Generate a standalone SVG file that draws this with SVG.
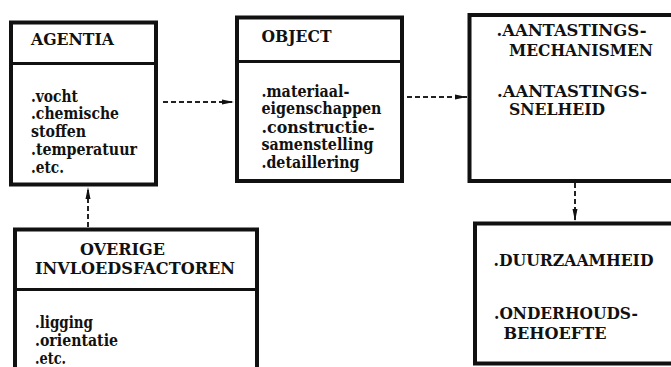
<svg xmlns="http://www.w3.org/2000/svg" width="671" height="367" viewBox="0 0 671 367">
  <style>
    .box { fill: #fff; stroke: #111; stroke-width: 4; }
    .div { stroke: #111; stroke-width: 3; }
    .t { font-family: "DejaVu Serif", "Liberation Serif", serif; font-weight: bold; font-size: 16px; fill: #111; }
    .dash { fill: none; stroke: #222; stroke-width: 2; stroke-dasharray: 5 3; }
  </style>
  <defs>
    <marker id="arrow" viewBox="0 0 12 6" refX="12" refY="3" markerWidth="12" markerHeight="6" markerUnits="userSpaceOnUse" orient="auto">
      <path d="M0,0.5 L12,3 L0,5.5 Z" fill="#111"/>
    </marker>
  </defs>
  <rect width="671" height="367" fill="#fff"/>

  <g id="agentia">
    <rect class="box" x="11" y="22.5" width="145" height="162"/>
    <line class="div" x1="11" y1="63.5" x2="156" y2="63.5"/>
    <text class="t" x="31" y="45" textLength="83" lengthAdjust="spacingAndGlyphs">AGENTIA</text>
    <text class="t" x="31" y="101.5" textLength="47" lengthAdjust="spacingAndGlyphs">.vocht</text>
    <text class="t" x="31" y="119" textLength="88" lengthAdjust="spacingAndGlyphs">.chemische</text>
    <text class="t" x="31" y="137" textLength="55" lengthAdjust="spacingAndGlyphs">stoffen</text>
    <text class="t" x="31" y="155" textLength="106" lengthAdjust="spacingAndGlyphs">.temperatuur</text>
    <text class="t" x="31" y="173" textLength="33" lengthAdjust="spacingAndGlyphs">.etc.</text>
  </g>

  <g id="object">
    <rect class="box" x="237" y="17.5" width="165" height="163.5"/>
    <line class="div" x1="237" y1="61.5" x2="402" y2="61.5"/>
    <text class="t" x="261.5" y="41.5" textLength="70" lengthAdjust="spacingAndGlyphs">OBJECT</text>
    <text class="t" x="261.5" y="96.5" textLength="88" lengthAdjust="spacingAndGlyphs">.materiaal-</text>
    <text class="t" x="261.5" y="114" textLength="120" lengthAdjust="spacingAndGlyphs">eigenschappen</text>
    <text class="t" x="261.5" y="132.5" textLength="113" lengthAdjust="spacingAndGlyphs">.constructie-</text>
    <text class="t" x="261.5" y="150" textLength="112" lengthAdjust="spacingAndGlyphs">samenstelling</text>
    <text class="t" x="261.5" y="168" textLength="98" lengthAdjust="spacingAndGlyphs">.detaillering</text>
  </g>

  <g id="mechanismen">
    <rect class="box" x="469.5" y="15" width="204" height="166"/>
    <text class="t" x="496.5" y="36" textLength="150" lengthAdjust="spacingAndGlyphs">.AANTASTINGS-</text>
    <text class="t" x="509" y="56" textLength="144" lengthAdjust="spacingAndGlyphs">MECHANISMEN</text>
    <text class="t" x="497" y="96.5" textLength="150" lengthAdjust="spacingAndGlyphs">.AANTASTINGS-</text>
    <text class="t" x="509" y="115" textLength="96" lengthAdjust="spacingAndGlyphs">SNELHEID</text>
  </g>

  <g id="overige">
    <rect class="box" x="15" y="229.5" width="242" height="150"/>
    <line class="div" x1="15" y1="289.5" x2="257" y2="289.5"/>
    <text class="t" x="80" y="255" textLength="85" lengthAdjust="spacingAndGlyphs">OVERIGE</text>
    <text class="t" x="35" y="273.5" textLength="200" lengthAdjust="spacingAndGlyphs">INVLOEDSFACTOREN</text>
    <text class="t" x="35" y="327.5" textLength="58" lengthAdjust="spacingAndGlyphs">.ligging</text>
    <text class="t" x="35" y="345.5" textLength="83" lengthAdjust="spacingAndGlyphs">.orientatie</text>
    <text class="t" x="35" y="364" textLength="31" lengthAdjust="spacingAndGlyphs">.etc.</text>
  </g>

  <g id="duurzaamheid">
    <rect class="box" x="475" y="223.5" width="200" height="140"/>
    <text class="t" x="493.5" y="266" textLength="160" lengthAdjust="spacingAndGlyphs">.DUURZAAMHEID</text>
    <text class="t" x="494" y="319" textLength="144" lengthAdjust="spacingAndGlyphs">.ONDERHOUDS-</text>
    <text class="t" x="503.5" y="339" textLength="103" lengthAdjust="spacingAndGlyphs">BEHOEFTE</text>
  </g>

  <g id="connectors">
    <path class="dash" d="M163,102 L234,102" marker-end="url(#arrow)"/>
    <path class="dash" d="M407,97 L467,97" marker-end="url(#arrow)"/>
    <path class="dash" d="M88,227 L88,187" marker-end="url(#arrow)"/>
    <path class="dash" d="M575,183 L575,221" marker-end="url(#arrow)"/>
  </g>
</svg>
